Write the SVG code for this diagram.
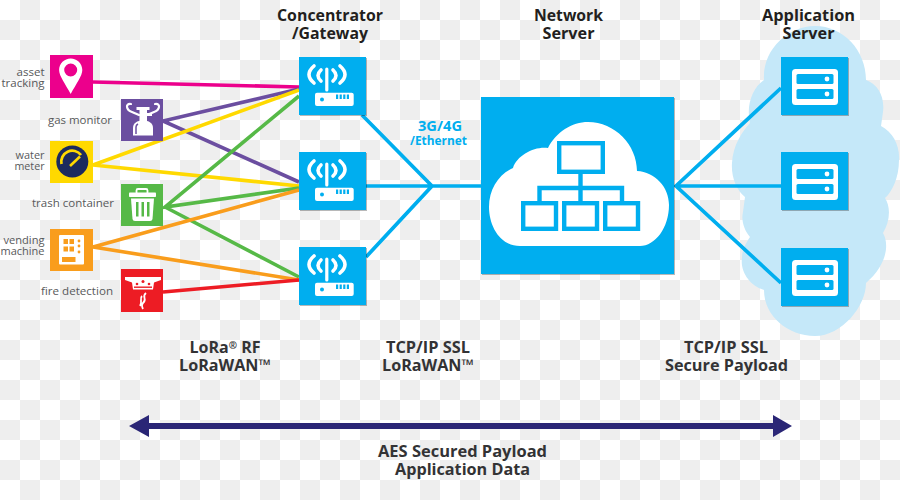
<svg xmlns="http://www.w3.org/2000/svg" xmlns:xlink="http://www.w3.org/1999/xlink" width="900" height="500" viewBox="0 0 900 500">
<style>
.h{font-family:"Open Sans","Noto Sans",sans-serif;font-weight:700;font-size:16px;fill:#231f20;text-anchor:middle}
.p{font-family:"Open Sans","Noto Sans",sans-serif;font-weight:700;font-size:16px;fill:#333335;text-anchor:middle}
.s{font-family:"Open Sans","Noto Sans",sans-serif;font-size:11px;fill:#58595b}
.e{text-anchor:end}
.b3{font-family:"Open Sans","Noto Sans",sans-serif;font-weight:700;fill:#00aeef;text-anchor:middle}
.sup{font-size:10px}
.blue{fill:#00aeef}
.shadow{filter:drop-shadow(1px 1px .6px rgba(0,0,0,.28))}
.w{fill:#fff}
.ln{fill:none;stroke-width:3.6}
.bl{fill:none;stroke:#00aeef;stroke-width:3.7}
</style>
<defs>
<pattern id="checker" width="40" height="40" patternUnits="userSpaceOnUse">
<rect width="40" height="40" fill="#fff"/>
<rect x="20" y="0" width="20" height="20" fill="#eee"/>
<rect x="0" y="20" width="20" height="20" fill="#eee"/>
</pattern>
<g id="router">
<rect class="blue shadow" x="0" y="0" width="67" height="58"/>
<g fill="none" stroke="#fff" stroke-width="3.600" stroke-linecap="round">
<path d="M15 9 Q5 17.500 15 26"/>
<path d="M22 13 Q16 18.500 22 24"/>
<path d="M34 13 Q40 18.500 34 24"/>
<path d="M41 9 Q51 17.500 41 26"/>
</g>
<path d="M27.800 12 V33" stroke="#fff" stroke-width="3.200" stroke-linecap="round"/>
<rect class="w" x="16" y="35.700" width="38.700" height="13.300" rx="2"/>
<circle class="blue" cx="23" cy="42.500" r="2"/>
<g class="blue">
<rect x="37" y="37.500" width="2.200" height="4.500"/>
<rect x="40.600" y="37.500" width="2.200" height="4.500"/>
<rect x="44.200" y="37.500" width="2.200" height="4.500"/>
<rect x="47.800" y="37.500" width="2.200" height="4.500"/>
</g>
</g>
<g id="server">
<rect class="blue shadow" x="0" y="0" width="67" height="58"/>
<rect class="w" x="11" y="12" width="46" height="36" rx="3.500"/>
<rect class="blue" x="15.500" y="17" width="37" height="10" rx="1.500"/>
<rect class="blue" x="15.500" y="32" width="37" height="10" rx="1.500"/>
<circle class="w" cx="46" cy="22" r="2.400"/>
<circle class="w" cx="46" cy="37" r="2.400"/>
</g>
</defs>
<rect id="background" width="900" height="500" fill="url(#checker)"/>
<path id="app-cloud" fill="#c5e8f9" d="M815 26 C843 26 866 50 866 80 C878 84 885 97 883 112 L881 126 C893 132 900 146 899 160 C899 178 892 192 885 198 C891 207 890 222 883 233 C889 243 888 264 866 283 C866 306 842 336 815 336 C788 336 764 316 764 290 C750 286 740 272 742 258 C742 250 746 243 750 237 C744 230 741 220 743 212 L745 197 C736 190 731 176 732 163 C733 145 742 132 750 123 C746 106 752 88 764 80 C762 50 788 26 815 26 Z"/>
<g id="connectors">
<path class="ln" stroke="#ec008c" d="M93 82 L299 87"/>
<path class="ln" stroke="#6b4ea0" d="M299 89 L163 121 L299 182"/>
<path class="ln" stroke="#ffd900" d="M299 90 L93 165 L299 186"/>
<path class="ln" stroke="#56b947" d="M299 96 L165 207 L299 188 M165 207 L299 277"/>
<path class="ln" stroke="#f99d1c" d="M299 190 L93 247 L299 280"/>
<path class="ln" stroke="#ed1c24" d="M163 292 L299 280"/>
<path class="bl" d="M362 115 L432 186 L366 257 M366 186 H481"/>
<path class="bl" d="M781 88 L676 186 L781 283 M676 186 H781"/>
</g>
<g id="asset-tracking">
<rect x="50" y="55" width="43" height="43" fill="#ec008c"/>
<path class="w" fill-rule="evenodd" d="M70.700 58.500 C77 58.500 82.300 63.600 82.300 70 C82.300 76 76 84 70.700 94 C65.400 84 59.100 76 59.100 70 C59.100 63.600 64.400 58.500 70.700 58.500 Z M70.700 63.500 A6.500 6.500 0 1 0 70.700 76.500 A6.500 6.500 0 1 0 70.700 63.500 Z"/>
<text class="s e" x="44.500" y="76" textLength="28" lengthAdjust="spacingAndGlyphs">asset</text>
<text class="s e" x="44.500" y="87" textLength="43" lengthAdjust="spacingAndGlyphs">tracking</text>
</g>
<g id="gas-monitor">
<rect x="121" y="99" width="42" height="42" fill="#6b4ea0"/>
<path fill="none" stroke="#fff" stroke-width="2.200" stroke-linecap="round" d="M131 104 C125 103 126 110 132 112 L139 115 M155 104 C161 103 160 110 154 112 L147 115"/>
<rect class="w" x="136.500" y="107" width="13" height="3"/>
<rect class="w" x="139.500" y="109" width="7.500" height="12"/>
<rect class="w" x="147" y="113" width="5" height="3"/>
<path class="w" d="M133 135.500 V128 C133 123 137 120.500 143 120.500 C149 120.500 153 123 153 128 V135.500 Z"/>
<path fill="none" stroke="#6b4ea0" stroke-width="1.500" d="M136 134 V127 Q136 125 138 124"/>
<text class="s" x="48" y="124" textLength="64" lengthAdjust="spacingAndGlyphs">gas monitor</text>
</g>
<g id="water-meter">
<rect x="50" y="141" width="43" height="42" fill="#ffd900"/>
<circle cx="72.300" cy="161.500" r="16" fill="#1c2b5e"/>
<path fill="none" stroke="#ffd900" stroke-width="2.800" d="M61.500 164 A11 11 0 0 1 81 155"/>
<path d="M70 166 L80 156.500" stroke="#ffd900" stroke-width="2.600"/>
<text class="s e" x="44.500" y="159" textLength="29" lengthAdjust="spacingAndGlyphs">water</text>
<text class="s e" x="44.500" y="170" textLength="30" lengthAdjust="spacingAndGlyphs">meter</text>
</g>
<g id="trash-container">
<rect x="121" y="184" width="42" height="42" fill="#56b947"/>
<rect x="136.500" y="189" width="11" height="5" rx="1.500" fill="none" stroke="#fff" stroke-width="1.800"/>
<rect class="w" x="129" y="192.500" width="27" height="4.500" rx=".8"/>
<path class="w" d="M131 198.500 H154 L152.500 219 Q152.300 221 150 221 H135 Q132.700 221 132.500 219 Z"/>
<g fill="#56b947">
<rect x="136" y="202" width="2.500" height="14.500"/>
<rect x="141.500" y="202" width="2.500" height="14.500"/>
<rect x="147" y="202" width="2.500" height="14.500"/>
</g>
<text class="s" x="32" y="207" textLength="82" lengthAdjust="spacingAndGlyphs">trash container</text>
</g>
<g id="vending-machine">
<rect x="50" y="229" width="43" height="42" fill="#f99d1c"/>
<rect class="w" x="59" y="235" width="25" height="29.500" rx="1"/>
<g fill="#f99d1c">
<rect x="63.500" y="239" width="4.500" height="5"/>
<rect x="69.500" y="239" width="4.500" height="5"/>
<rect x="63.500" y="246.500" width="4.500" height="5"/>
<rect x="69.500" y="246.500" width="4.500" height="5"/>
<rect x="62" y="257" width="13.500" height="5"/>
<circle cx="79" cy="241" r="1.400"/>
<circle cx="79" cy="246" r="1.400"/>
<circle cx="79" cy="252" r="1.400"/>
</g>
<text class="s e" x="44.500" y="244" textLength="41" lengthAdjust="spacingAndGlyphs">vending</text>
<text class="s e" x="44.500" y="255" textLength="44" lengthAdjust="spacingAndGlyphs">machine</text>
</g>
<g id="fire-detection">
<rect x="121" y="269" width="42" height="43" fill="#ed1c24"/>
<path class="w" d="M125 277 H161 V280 L154 282.500 L153 289.500 H133 L132 282.500 L125 280 Z"/>
<g fill="#ed1c24">
<circle cx="143" cy="281.500" r="1.500"/>
<circle cx="137" cy="284" r="1.300"/>
<circle cx="149" cy="284" r="1.300"/>
<rect x="134" y="286.500" width="18" height="1.400"/>
</g>
<path fill="none" stroke="#fff" stroke-width="1.800" d="M146 293 C141 297 148 299 143 303 C141 305 142 307 143 309 M142 296 C139 299 143 302 140 306"/>
<text class="s" x="41" y="295" textLength="72" lengthAdjust="spacingAndGlyphs">fire detection</text>
</g>
<use id="gateway-1" href="#router" x="299" y="57"/>
<use id="gateway-2" href="#router" x="299" y="152"/>
<use id="gateway-3" href="#router" x="299" y="247"/>
<g id="network-server">
<rect class="blue shadow" x="481" y="97" width="193" height="177"/>
<path class="w" d="M520 246 C500 246 489 226 489 207 C489 189 499 174 513 168 C517 155 535 146 548 148 C556 132 572 122 588 122 C615 122 637 145 637 171 C655 172 669 187 669 205 C669 228 655 246 640 246 Z"/>
<g fill="none" stroke="#00aeef" stroke-width="4.400">
<rect x="559.200" y="143.200" width="43.600" height="28.600"/>
<rect x="523.200" y="203.200" width="32.800" height="25.600"/>
<rect x="564.200" y="203.200" width="32.800" height="25.600"/>
<rect x="605.200" y="203.200" width="32.800" height="25.600"/>
<path d="M580.500 174 V201 M539.500 201 V188 H622 V201"/>
</g>
</g>
<use id="app-server-1" href="#server" x="781" y="57"/>
<use id="app-server-2" href="#server" x="781" y="152"/>
<use id="app-server-3" href="#server" x="781" y="248"/>
<g id="titles">
<text class="h" x="330" y="21" textLength="106" lengthAdjust="spacingAndGlyphs">Concentrator</text>
<text class="h" x="330" y="39" textLength="76" lengthAdjust="spacingAndGlyphs">/Gateway</text>
<text class="h" x="568.500" y="21" textLength="69" lengthAdjust="spacingAndGlyphs">Network</text>
<text class="h" x="568.500" y="39" textLength="52" lengthAdjust="spacingAndGlyphs">Server</text>
<text class="h" x="808.500" y="21" textLength="93" lengthAdjust="spacingAndGlyphs">Application</text>
<text class="h" x="808.500" y="39" textLength="52" lengthAdjust="spacingAndGlyphs">Server</text>
</g>
<g id="link-label">
<text class="b3" x="440" y="131" font-size="14" textLength="44" lengthAdjust="spacingAndGlyphs">3G/4G</text>
<text class="b3" x="438.500" y="145" font-size="13" textLength="57" lengthAdjust="spacingAndGlyphs">/Ethernet</text>
</g>
<g id="protocols">
<text class="p" x="225" y="353">LoRa<tspan class="sup" dy="-4">®</tspan><tspan dy="4"> RF</tspan></text>
<text class="p" x="225" y="371" textLength="92" lengthAdjust="spacingAndGlyphs">LoRaWAN™</text>
<text class="p" x="428" y="353" textLength="84" lengthAdjust="spacingAndGlyphs">TCP/IP SSL</text>
<text class="p" x="428" y="371" textLength="92" lengthAdjust="spacingAndGlyphs">LoRaWAN™</text>
<text class="p" x="726" y="353" textLength="84" lengthAdjust="spacingAndGlyphs">TCP/IP SSL</text>
<text class="p" x="726.500" y="371" textLength="123" lengthAdjust="spacingAndGlyphs">Secure Payload</text>
</g>
<g id="span-arrow">
<path fill="#2a2676" d="M129 426 L149 415 V423 H773 V415 L792 426 L773 437 V429 H149 V437 Z"/>
<text class="p" x="462.500" y="457" textLength="169" lengthAdjust="spacingAndGlyphs">AES Secured Payload</text>
<text class="p" x="462.500" y="475" textLength="135" lengthAdjust="spacingAndGlyphs">Application Data</text>
</g>
</svg>
